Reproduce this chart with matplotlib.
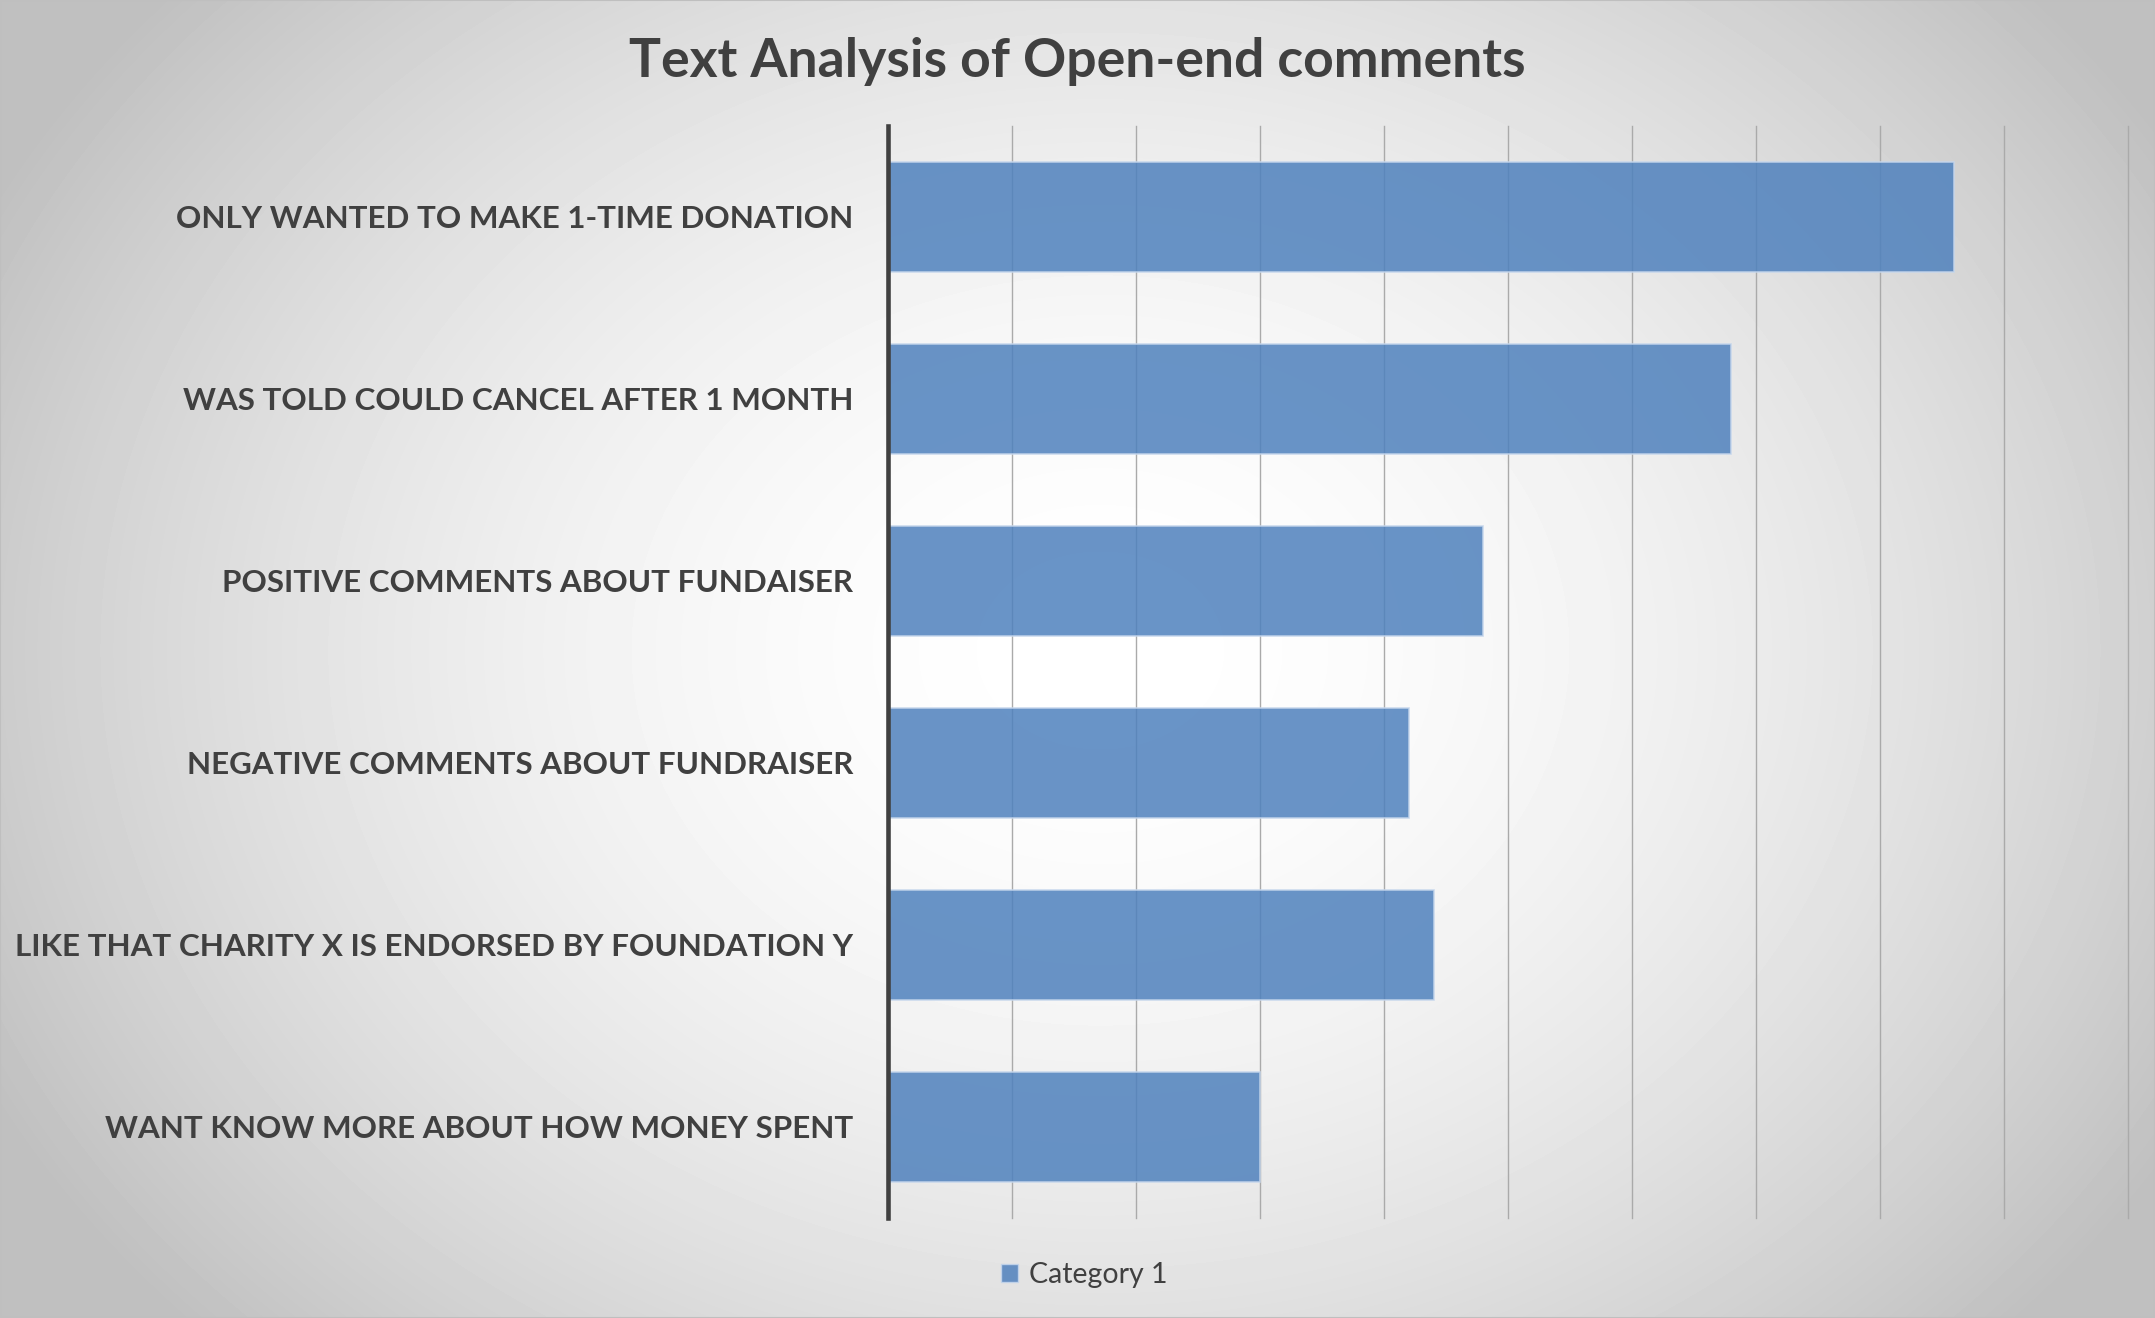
import numpy as np
import matplotlib.pyplot as plt
from matplotlib.patches import Patch, Rectangle

plt.switch_backend('agg')
plt.rcParams['font.family'] = ['Lato', 'DejaVu Sans']

W, H = 2155, 1318
TEXT_COLOR = '#404040'
BAR_COLOR = '#4F81BD'

title = "Text Analysis of Open-end comments"
series_name = "Category 1"
categories = [
    "ONLY WANTED TO MAKE 1-TIME DONATION",
    "WAS TOLD COULD CANCEL AFTER 1 MONTH",
    "POSITIVE COMMENTS ABOUT FUNDAISER",
    "NEGATIVE COMMENTS ABOUT FUNDRAISER",
    "LIKE THAT CHARITY X IS ENDORSED BY FOUNDATION Y",
    "WANT KNOW MORE ABOUT HOW MONEY SPENT",
]
values = [8.6, 6.8, 4.8, 4.2, 4.4, 3.0]
x_max = 10


def background(fig):
    # soft radial shading, light in the middle, grey towards the corners
    yy, xx = np.mgrid[0:H, 0:W]
    t = np.sqrt(((xx - 1100) / 1250.0) ** 2 + ((yy - 650) / 1000.0) ** 2)
    shade = np.clip(255 - 64 * t ** 1.8, 192, 255)
    bg = fig.add_axes([0, 0, 1, 1], zorder=0)
    bg.imshow(shade, cmap='gray', vmin=0, vmax=255, aspect='auto',
              extent=[0, 1, 0, 1], interpolation='bilinear')
    bg.add_patch(Rectangle((0, 0), 1, 1, transform=bg.transAxes, fill=False,
                           edgecolor='#BFBFBF', lw=1.5))
    bg.axis('off')


def main():
    fig = plt.figure(figsize=(W / 100, H / 100), dpi=100)
    background(fig)

    ax = fig.add_axes([888 / W, 1 - 1218 / H, (2128 - 888) / W, (1218 - 126) / H], zorder=1)
    ax.set_facecolor('none')

    y = np.arange(len(categories))
    ax.barh(y, values, height=0.6, color=BAR_COLOR, alpha=0.85,
            edgecolor='#C5D6EC', linewidth=1.2, zorder=2)

    ax.set_xlim(0, x_max)
    ax.set_ylim(len(categories) - 0.5, -0.5)
    ax.set_xticks(np.arange(0, x_max + 1, 1))
    ax.set_xticklabels([])
    ax.grid(axis='x', color='#AAAAAA', lw=1.0, zorder=1)
    for line in ax.get_xgridlines():
        line.set_clip_on(False)
    ax.set_axisbelow(True)
    ax.tick_params(axis='both', length=0)
    ax.tick_params(axis='y', pad=25)
    ax.set_yticks(y)
    ax.set_yticklabels(categories, fontsize=22.6, fontweight='bold', color=TEXT_COLOR)

    for side in ['top', 'right', 'bottom']:
        ax.spines[side].set_visible(False)
    ax.spines['left'].set_color(TEXT_COLOR)
    ax.spines['left'].set_linewidth(3.3)
    ax.spines['left'].set_zorder(3)

    fig.text(0.5, 1 - 61 / H, title, ha='center', va='center',
             fontsize=38.5, fontweight='bold', color=TEXT_COLOR)

    handle = Patch(facecolor=BAR_COLOR, alpha=0.85, edgecolor='#C5D6EC', lw=1)
    fig.legend([handle], [series_name], loc='center', bbox_to_anchor=(1084 / W, 1 - 1275 / H),
               frameon=False, fontsize=20.5, handlelength=0.6, handleheight=0.6,
               handletextpad=0.4, labelcolor=TEXT_COLOR)

    fig.savefig('out.png', dpi=100)


if __name__ == '__main__':
    main()
